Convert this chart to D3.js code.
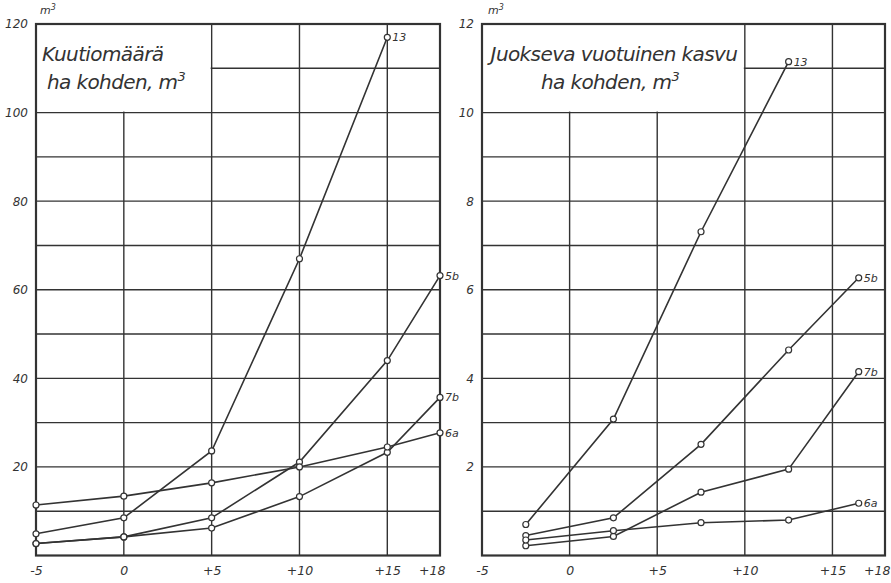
<!DOCTYPE html>
<html>
<head>
<meta charset="utf-8">
<script src="https://cdn.jsdelivr.net/npm/d3@7"></script>
<style>
  body { margin: 0; background: #fff; }
  svg { display: block; }
  text { font-family: "DejaVu Sans", sans-serif; font-style: italic; fill: #333; }
</style>
</head>
<body>
<div class="chart"></div>
<script>
// x positions (temperature offsets) and tick labels
const xTicks = [-5, 0, 5, 10, 15, 18];
const xTickLabels = ["-5", "0", "+5", "+10", "+15", "+18"];

// left panel: volume per ha, m3
const volX = [-5, 0, 5, 10, 15, 18];
const vol13 = [4.9, 8.5, 23.6, 67, 117];
const vol5b = [2.7, 4.2, 8.5, 21.1, 44, 63.2];
const vol7b = [2.7, 4.2, 6.2, 13.3, 23.3, 35.7];
const vol6a = [11.4, 13.4, 16.4, 20, 24.5, 27.7];
const volTicks = [20, 40, 60, 80, 100, 120];

// right panel: current annual increment per ha, m3
const incX = [-2.5, 2.5, 7.5, 12.5, 16.5];
const inc13 = [0.70, 3.08, 7.31, 11.15];
const inc5b = [0.45, 0.85, 2.51, 4.64, 6.27];
const inc6a = [0.35, 0.56, 0.74, 0.80, 1.18];
const inc7b = [0.22, 0.43, 1.43, 1.95, 4.15];
const incTicks = [2, 4, 6, 8, 10, 12];

const width = 891, height = 583;
const ink = "#333";

const svg = d3.select(".chart").append("svg")
    .attr("width", width)
    .attr("height", height)
    .attr("viewBox", [0, 0, width, height]);

function panel({left, right, yMax, yStep, yTicks, xs, series, titleLines, titleX, titleAnchor, boxX, yLabelX}) {
  const x = d3.scaleLinear([-5, 18], [left, right]);
  const y = d3.scaleLinear([0, yMax], [555.5, 24]);
  const g = svg.append("g");

  // grid
  g.append("g")
    .selectAll("line")
    .data(d3.range(yStep, yMax, yStep))
    .join("line")
      .attr("x1", x(-5)).attr("x2", x(18))
      .attr("y1", d => y(d)).attr("y2", d => y(d))
      .attr("stroke", ink).attr("stroke-width", 1.4);
  g.append("g")
    .selectAll("line")
    .data(xTicks.slice(1, -1))
    .join("line")
      .attr("x1", d => x(d)).attr("x2", d => x(d))
      .attr("y1", y(0)).attr("y2", y(yMax))
      .attr("stroke", ink).attr("stroke-width", 1.4);

  // white title box over the grid
  g.append("rect")
    .attr("x", x(-5)).attr("y", y(yMax))
    .attr("width", x(boxX) - x(-5) - 1)
    .attr("height", y(yMax - 2 * yStep) - y(yMax) - 1)
    .attr("fill", "#fff");

  // frame
  g.append("rect")
    .attr("x", x(-5)).attr("y", y(yMax))
    .attr("width", x(18) - x(-5)).attr("height", y(0) - y(yMax))
    .attr("fill", "none").attr("stroke", ink).attr("stroke-width", 2.2);

  // titles
  titleLines.forEach((t, i) => {
    g.append("text")
      .attr("x", titleX[i]).attr("y", 61 + i * 28)
      .attr("text-anchor", titleAnchor)
      .attr("font-size", 20)
      .attr("letter-spacing", -0.6)
      .html(t);
  });

  // axis tick labels
  const xAxis = d3.axisBottom(x).tickValues(xTicks).tickFormat((d, i) => xTickLabels[i]).tickSize(0).tickPadding(11);
  g.append("g")
    .attr("transform", `translate(0,${y(0)})`)
    .call(xAxis)
    .call(a => a.select(".domain").remove())
    .call(a => a.selectAll("text").attr("font-size", 12.5).attr("fill", ink).attr("font-family", null))
    .call(a => a.selectAll(".tick").filter(d => d === 18).select("text")
        .attr("text-anchor", "end").attr("dx", 5));
  const yAxis = d3.axisLeft(y).tickValues(yTicks).tickSize(0).tickPadding(8);
  g.append("g")
    .attr("transform", `translate(${x(-5)},0)`)
    .call(yAxis)
    .call(a => a.select(".domain").remove())
    .call(a => a.selectAll("text").attr("font-size", 12).attr("fill", ink).attr("font-family", null));
  g.append("text")
    .attr("x", yLabelX).attr("y", 14)
    .attr("font-size", 11)
    .html("m<tspan dy='-4' font-size='8'>3</tspan>");

  // series
  const line = d3.line().x(d => x(d[0])).y(d => y(d[1]));
  series.forEach(s => {
    const pts = s.values.map((v, i) => [xs[i], v]);
    g.append("path")
      .attr("d", line(pts))
      .attr("fill", "none").attr("stroke", ink).attr("stroke-width", 1.6);
    g.append("g")
      .selectAll("circle")
      .data(pts)
      .join("circle")
        .attr("cx", d => x(d[0])).attr("cy", d => y(d[1]))
        .attr("r", 3)
        .attr("fill", "#fff").attr("stroke", ink).attr("stroke-width", 1.2);
    const last = pts[pts.length - 1];
    g.append("text")
      .attr("x", x(last[0]) + 5).attr("y", y(last[1]) + 4)
      .attr("font-size", 11)
      .text(s.name);
  });
}

panel({
  left: 36, right: 440, yMax: 120, yStep: 10, yTicks: volTicks, xs: volX,
  series: [
    {name: "13", values: vol13},
    {name: "5b", values: vol5b},
    {name: "7b", values: vol7b},
    {name: "6a", values: vol6a}
  ],
  titleLines: ["Kuutiomäärä", "ha kohden, m<tspan dy='-8' font-size='13'>3</tspan>"],
  titleX: [42, 47], titleAnchor: "start", boxX: 5, yLabelX: 40
});

panel({
  left: 482, right: 885, yMax: 12, yStep: 1, yTicks: incTicks, xs: incX,
  series: [
    {name: "13", values: inc13},
    {name: "5b", values: inc5b},
    {name: "7b", values: inc7b},
    {name: "6a", values: inc6a}
  ],
  titleLines: ["Juokseva vuotuinen kasvu", "ha kohden, m<tspan dy='-8' font-size='13'>3</tspan>"],
  titleX: [614, 610], titleAnchor: "middle", boxX: 10, yLabelX: 488
});
</script>
</body>
</html>
